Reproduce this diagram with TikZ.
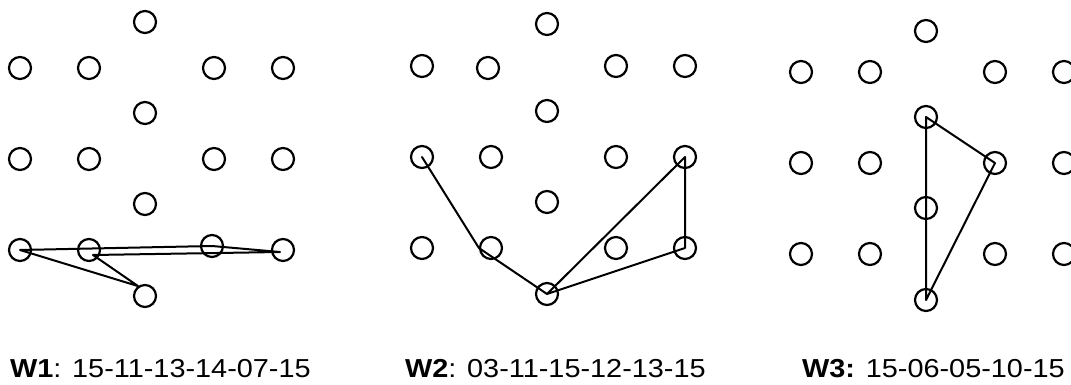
\documentclass[tikz,border=0pt]{standalone}
\usepackage{fontspec}
\setmainfont{Liberation Sans}[FakeStretch=1.11]
\usepackage{tikz}
\usetikzlibrary{calc}
\tikzset{
  hole/.style={circle, draw=black, line width=2.2pt, minimum size=22pt, inner sep=0pt},
  band/.style={draw=black, line width=2pt, line cap=round, line join=round},
  lab/.style={anchor=base west, inner sep=0pt, font=\fontsize{26}{30}\selectfont},
  % holes that sit a little off the grid
  tweak a14/.style={xshift=-2pt, yshift=4pt},
  tweak b1/.style={yshift=-4pt},
  tweak b3/.style={xshift=-3pt, yshift=-2pt},
  tweak c1/.style={yshift=-5pt},
}
\begin{document}
\begin{tikzpicture}[x=1pt,y=-1pt]
  \useasboundingbox (0,0) rectangle (1071,385);
  % the same board three times
  \foreach \P/\dx/\dy in {a/0/0,b/402/-2,c/781/4}{
    \begin{scope}[shift={(\dx,\dy)}]
      \foreach \N/\X/\Y in {1/145/22,2/20/68,3/89/68,4/214/68,5/283/68,6/145/113,
          7/20/159,8/89/159,9/214/159,10/283/159,11/145/204,
          12/20/250,13/89/250,14/214/250,15/283/250,16/145/296}
        \node[hole, tweak \P\N/.try] (\P\N) at (\X,\Y) {};
    \end{scope}
  }
  % W1
  \draw[band] (a14.center) -- (a12.center) -- (a16.125) -- ($(a13.center)+(4,5)$)
    -- ($(a15.center)+(-3,2)$) -- cycle;
  % W2
  \draw[band] (b7.center) -- (b13.west) -- (b16.center) -- (b10.center) -- (b15.center) -- (b16.center);
  % W3
  \draw[band] (c6.center) -- (c9.center) -- (c16.center) -- (c11.center) -- cycle;
  \node[lab] (w1) at (10,377) {\textbf{W1}: 15-11-13-14-07-15};
  \node[lab] (w2) at (405,377) {\textbf{W2}: 03-11-15-12-13-15};
  \node[lab] (w3) at (802,377) {\textbf{W3:} 15-06-05-10-15};
\end{tikzpicture}
\end{document}
